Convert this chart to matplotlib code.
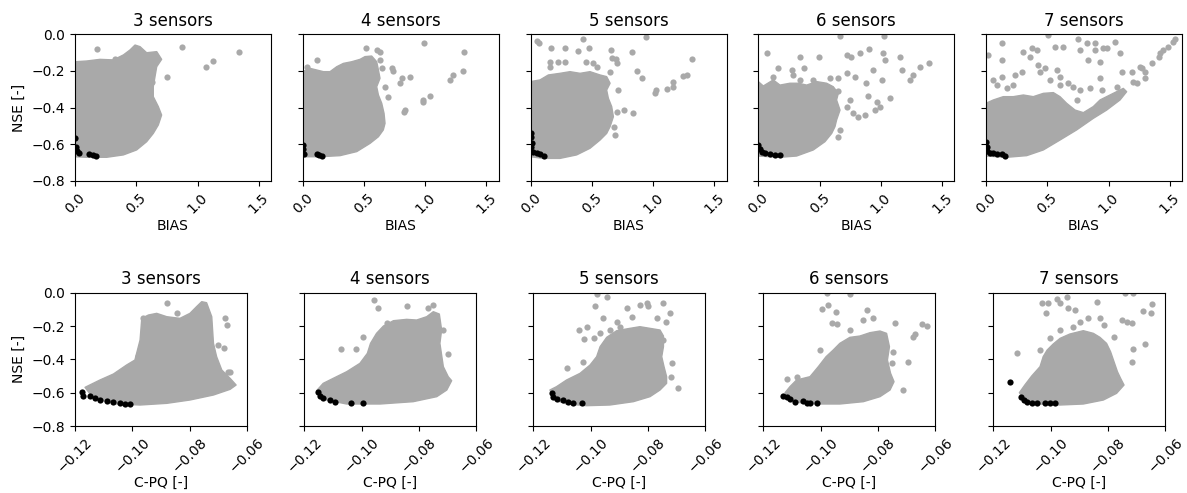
import matplotlib
matplotlib.use("Agg")
import matplotlib.pyplot as plt

# ---------------------------------------------------------------
# Sensor-count panels
# ---------------------------------------------------------------
sensor_counts = [3, 4, 5, 6, 7]

# ---- Row 1: BIAS vs NSE ----------------------------------------
# Outline of the dense solution cloud (BIAS, NSE)
bias_cloud_x = [
    [0, 0, 0.095, 0.204, 0.313, 0.395, 0.449, 0.490, 0.531, 0.585, 0.667, 0.707, 0.667, 0.653,
     0.639, 0.639, 0.680, 0.707, 0.680, 0.639, 0.585, 0.503, 0.395, 0.258, 0.095],
    [0, 0, 0.060, 0.169, 0.223, 0.278, 0.332, 0.400, 0.468, 0.509, 0.563, 0.604, 0.618, 0.631,
     0.604, 0.618, 0.645, 0.664, 0.672, 0.658, 0.618, 0.550, 0.441, 0.305, 0.141],
    [0, 0, 0.076, 0.144, 0.239, 0.321, 0.403, 0.484, 0.566, 0.620, 0.648, 0.620, 0.634, 0.661,
     0.675, 0.648, 0.620, 0.566, 0.484, 0.375, 0.239, 0.103],
    [0, 0, 0.041, 0.122, 0.177, 0.258, 0.327, 0.395, 0.476, 0.558, 0.612, 0.653, 0.639, 0.667,
     0.639, 0.626, 0.599, 0.544, 0.449, 0.313, 0.177],
    [0, 0, 0.060, 0.141, 0.223, 0.305, 0.386, 0.468, 0.550, 0.604, 0.658, 0.727, 0.795, 0.876,
     0.931, 0.985, 1.039, 1.121, 1.148, 1.094, 0.985, 0.876, 0.740, 0.604, 0.468, 0.332, 0.169],
]
bias_cloud_y = [
    [-0.668, -0.151, -0.147, -0.138, -0.141, -0.114, -0.087, -0.060, -0.069, -0.102, -0.096,
     -0.138, -0.178, -0.232, -0.287, -0.341, -0.395, -0.441, -0.495, -0.541, -0.586, -0.631,
     -0.658, -0.671, -0.671],
    [-0.668, -0.205, -0.187, -0.205, -0.205, -0.178, -0.160, -0.151, -0.138, -0.123, -0.120,
     -0.151, -0.196, -0.241, -0.287, -0.332, -0.377, -0.432, -0.486, -0.522, -0.559, -0.595,
     -0.640, -0.662, -0.668],
    [-0.668, -0.259, -0.250, -0.223, -0.214, -0.205, -0.214, -0.205, -0.223, -0.232, -0.268,
     -0.305, -0.350, -0.395, -0.450, -0.504, -0.541, -0.577, -0.622, -0.658, -0.677, -0.677],
    [-0.664, -0.259, -0.283, -0.250, -0.278, -0.268, -0.268, -0.278, -0.259, -0.268, -0.287,
     -0.323, -0.359, -0.414, -0.468, -0.504, -0.541, -0.586, -0.631, -0.664, -0.671],
    [-0.664, -0.377, -0.359, -0.341, -0.341, -0.332, -0.341, -0.323, -0.319, -0.341, -0.377,
     -0.414, -0.428, -0.395, -0.359, -0.341, -0.323, -0.296, -0.314, -0.359, -0.414, -0.459,
     -0.522, -0.577, -0.631, -0.662, -0.671],
]

# Scattered solutions outside the dense cloud
bias_out_x = [
    [0.177, 0.327, 0.748, 0.871, 1.067, 1.129, 1.341, 0.626],
    [0.114, 0.517, 0.604, 0.631, 0.631, 0.645, 0.726, 0.740, 0.672, 0.699, 0.808, 0.795, 0.876,
     0.835, 0.830, 0.990, 0.985, 0.985, 1.039, 1.203, 1.230, 1.312, 1.320, 0.033],
    [0.049, 0.071, 0.163, 0.280, 0.389, 0.430, 0.476, 0.158, 0.158, 0.226, 0.280, 0.452, 0.512,
     0.539, 0.653, 0.661, 0.697, 0.702, 0.830, 0.865, 0.912, 0.939, 0.716, 0.707, 0.762, 0.838,
     0.680, 0.688, 1.023, 1.018, 1.110, 1.159, 1.165, 1.246, 1.279, 1.320, 0.648],
    [0.073, 0.163, 0.122, 0.272, 0.286, 0.340, 0.373, 0.340, 0.449, 0.495, 0.585, 0.653, 0.653,
     0.667, 0.721, 0.754, 0.721, 0.789, 0.830, 0.906, 0.879, 0.898, 0.939, 0.952, 0.966, 1.007,
     0.993, 1.020, 1.026, 1.034, 1.075, 1.156, 1.175, 1.238, 1.265, 1.320, 1.396, 0.748, 0.775,
     0.816, 0.871, 0.667, 0.653, 0.721],
    [0.019, 0.128, 0.128, 0.060, 0.087, 0.128, 0.169, 0.223, 0.237, 0.291, 0.305, 0.359, 0.373,
     0.414, 0.427, 0.441, 0.482, 0.509, 0.522, 0.563, 0.577, 0.604, 0.604, 0.631, 0.672, 0.713,
     0.754, 0.767, 0.767, 0.822, 0.835, 0.849, 0.890, 0.890, 0.931, 0.931, 0.944, 0.958, 0.985,
     1.053, 1.067, 1.094, 1.107, 1.189, 1.203, 1.257, 1.271, 1.298, 1.352, 1.415, 1.420, 1.448,
     1.488, 1.529, 1.543, 1.298, 1.230, 0.740, 0.658, 0.604, 0.631, 0.577, 0.686],
]
bias_out_y = [
    [-0.082, -0.136, -0.232, -0.069, -0.178, -0.147, -0.096, -0.260],
    [-0.141, -0.078, -0.087, -0.096, -0.141, -0.187, -0.187, -0.200, -0.287, -0.341, -0.241,
     -0.265, -0.232, -0.414, -0.426, -0.051, -0.359, -0.368, -0.337, -0.250, -0.223, -0.200,
     -0.100, -0.178],
    [-0.036, -0.047, -0.074, -0.074, -0.091, -0.027, -0.074, -0.151, -0.178, -0.151, -0.154,
     -0.154, -0.160, -0.178, -0.087, -0.132, -0.138, -0.156, -0.096, -0.200, -0.241, -0.015,
     -0.305, -0.423, -0.414, -0.432, -0.504, -0.550, -0.305, -0.323, -0.301, -0.290, -0.259,
     -0.229, -0.223, -0.136, -0.205],
    [-0.102, -0.187, -0.236, -0.196, -0.223, -0.123, -0.183, -0.250, -0.250, -0.123, -0.241,
     -0.241, -0.308, -0.011, -0.114, -0.123, -0.210, -0.236, -0.105, -0.083, -0.265, -0.337,
     -0.196, -0.414, -0.368, -0.250, -0.395, -0.105, -0.011, -0.141, -0.350, -0.123, -0.196,
     -0.250, -0.223, -0.178, -0.156, -0.359, -0.432, -0.450, -0.441, -0.522, -0.559, -0.395],
    [-0.114, -0.051, -0.141, -0.250, -0.278, -0.236, -0.296, -0.278, -0.223, -0.205, -0.096,
     -0.123, -0.078, -0.087, -0.169, -0.205, -0.187, -0.005, -0.250, -0.069, -0.196, -0.232,
     -0.278, -0.069, -0.268, -0.290, -0.029, -0.087, -0.305, -0.051, -0.141, -0.296, -0.047,
     -0.087, -0.151, -0.241, -0.305, -0.078, -0.078, -0.042, -0.287, -0.105, -0.205, -0.205,
     -0.259, -0.178, -0.187, -0.205, -0.156, -0.127, -0.105, -0.087, -0.069, -0.042, -0.029,
     -0.241, -0.268, -0.359, -0.414, -0.468, -0.541, -0.559, -0.486],
]

# Pareto-optimal solutions (BIAS, NSE)
bias_pareto_x = [
    [0.0, 0.005, 0.014, 0.030, 0.117, 0.144, 0.171],
    [0.0, 0.005, 0.011, 0.114, 0.136, 0.155],
    [0.0, 0.0, 0.0, 0.008, 0.016, 0.049, 0.076, 0.112],
    [0.0, 0.014, 0.027, 0.054, 0.095, 0.136, 0.177],
    [0.0, 0.005, 0.011, 0.033, 0.060, 0.087, 0.128, 0.155],
]
bias_pareto_y = [
    [-0.568, -0.613, -0.635, -0.649, -0.653, -0.657, -0.664],
    [-0.604, -0.628, -0.653, -0.653, -0.659, -0.662],
    [-0.537, -0.562, -0.613, -0.595, -0.640, -0.649, -0.653, -0.664],
    [-0.604, -0.628, -0.640, -0.649, -0.655, -0.659, -0.660],
    [-0.590, -0.613, -0.635, -0.646, -0.649, -0.653, -0.653, -0.664],
]

# ---- Row 2: C-PQ vs NSE ----------------------------------------
cpq_cloud_x = [
    [-0.1165, -0.1113, -0.1066, -0.1020, -0.0991, -0.0973, -0.0967, -0.0944, -0.0915, -0.0880,
     -0.0834, -0.0799, -0.0776, -0.0758, -0.0741, -0.0723, -0.0717, -0.0706, -0.0688, -0.0659,
     -0.0638, -0.0659, -0.0717, -0.0799, -0.0880, -0.0973, -0.1055, -0.1136],
    [-0.1157, -0.1134, -0.1099, -0.1052, -0.1006, -0.0980, -0.0969, -0.0948, -0.0924, -0.0889,
     -0.0843, -0.0808, -0.0773, -0.0750, -0.0729, -0.0721, -0.0727, -0.0715, -0.0698, -0.0686,
     -0.0703, -0.0738, -0.0820, -0.0936, -0.1052, -0.1122],
    [-0.1142, -0.1119, -0.1084, -0.1037, -0.1002, -0.0979, -0.0967, -0.0944, -0.0909, -0.0863,
     -0.0828, -0.0793, -0.0758, -0.0746, -0.0746, -0.0752, -0.0744, -0.0735, -0.0735, -0.0758,
     -0.0793, -0.0851, -0.0933, -0.1014, -0.1084, -0.1124],
    [-0.1124, -0.1107, -0.1084, -0.1037, -0.1008, -0.0981, -0.0956, -0.0933, -0.0898, -0.0863,
     -0.0828, -0.0793, -0.0770, -0.0760, -0.0767, -0.0756, -0.0744, -0.0758, -0.0793, -0.0851,
     -0.0933, -0.1014, -0.1072, -0.1113],
    [-0.1109, -0.1090, -0.1066, -0.1037, -0.1026, -0.1012, -0.0991, -0.0967, -0.0933, -0.0886,
     -0.0851, -0.0828, -0.0805, -0.0791, -0.0779, -0.0767, -0.0756, -0.0744, -0.0770, -0.0816,
     -0.0886, -0.0967, -0.1037, -0.1084],
]
cpq_cloud_y = [
    [-0.568, -0.524, -0.488, -0.434, -0.404, -0.284, -0.154, -0.134, -0.124, -0.144, -0.154,
     -0.124, -0.084, -0.054, -0.060, -0.144, -0.304, -0.384, -0.464, -0.514, -0.554, -0.580,
     -0.614, -0.644, -0.664, -0.674, -0.668, -0.634],
    [-0.588, -0.544, -0.514, -0.474, -0.424, -0.364, -0.304, -0.244, -0.200, -0.168, -0.160,
     -0.164, -0.144, -0.114, -0.128, -0.224, -0.304, -0.444, -0.504, -0.528, -0.584, -0.624,
     -0.654, -0.668, -0.668, -0.644],
    [-0.584, -0.564, -0.524, -0.484, -0.434, -0.384, -0.324, -0.268, -0.228, -0.214, -0.204,
     -0.214, -0.224, -0.260, -0.324, -0.384, -0.444, -0.504, -0.544, -0.584, -0.624, -0.654,
     -0.674, -0.678, -0.668, -0.644],
    [-0.600, -0.564, -0.524, -0.504, -0.444, -0.384, -0.344, -0.304, -0.268, -0.260, -0.240,
     -0.230, -0.244, -0.324, -0.404, -0.484, -0.534, -0.584, -0.624, -0.654, -0.668, -0.668,
     -0.660, -0.634],
    [-0.600, -0.554, -0.500, -0.444, -0.384, -0.344, -0.308, -0.274, -0.248, -0.228, -0.244,
     -0.268, -0.304, -0.354, -0.414, -0.474, -0.514, -0.554, -0.604, -0.644, -0.668, -0.674,
     -0.668, -0.654],
]

cpq_out_x = [
    [-0.0880, -0.0962, -0.0845, -0.0979, -0.0677, -0.0671, -0.0680, -0.0700, -0.0665, -0.0659],
    [-0.0956, -0.0942, -0.0843, -0.0767, -0.0750, -0.0913, -0.1073, -0.1020, -0.0994, -0.0698,
     -0.0717, -0.0738, -0.0732],
    [-0.0977, -0.0944, -0.0985, -0.0956, -0.0909, -0.0898, -0.0874, -0.0857, -0.0828, -0.0805,
     -0.0799, -0.0770, -0.0746, -0.0723, -0.0738, -0.1041, -0.1014, -0.1023, -0.0988, -0.0967,
     -0.0933, -0.1084, -0.1026, -0.0746, -0.0715, -0.0721, -0.0694],
    [-0.0977, -0.0898, -0.0973, -0.0996, -0.0946, -0.0839, -0.0819, -0.0851, -0.0962, -0.0942,
     -0.0898, -0.0741, -0.0648, -0.0628, -0.0671, -0.0679, -0.0694, -0.0712, -0.1119, -0.1081,
     -0.1002, -0.0746, -0.0752],
    [-0.1031, -0.1008, -0.1016, -0.0979, -0.0967, -0.0944, -0.0938, -0.0915, -0.0898, -0.0869,
     -0.0839, -0.0828, -0.0814, -0.0779, -0.0741, -0.0712, -0.0752, -0.0735, -0.0717, -0.0714,
     -0.0717, -0.0677, -0.0651, -0.0648, -0.0671, -0.1116, -0.1037, -0.1002, -0.0967, -0.0921],
]
cpq_out_y = [
    [-0.060, -0.154, -0.120, -0.380, -0.150, -0.194, -0.334, -0.314, -0.474, -0.474],
    [-0.044, -0.094, -0.080, -0.094, -0.074, -0.180, -0.340, -0.340, -0.264, -0.370, -0.224,
     -0.264, -0.394],
    [-0.010, -0.024, -0.080, -0.154, -0.174, -0.208, -0.094, -0.144, -0.074, -0.064, -0.080,
     -0.154, -0.064, -0.124, -0.174, -0.224, -0.204, -0.280, -0.274, -0.244, -0.224, -0.454,
     -0.414, -0.284, -0.424, -0.508, -0.574],
    [-0.004, -0.008, -0.074, -0.100, -0.114, -0.104, -0.154, -0.164, -0.180, -0.188, -0.224,
     -0.180, -0.188, -0.200, -0.248, -0.264, -0.414, -0.584, -0.520, -0.504, -0.344, -0.354,
     -0.424],
    [-0.060, -0.064, -0.124, -0.040, -0.064, -0.024, -0.094, -0.104, -0.174, -0.154, -0.054,
     -0.154, -0.194, -0.268, -0.004, -0.004, -0.164, -0.174, -0.184, -0.340, -0.414, -0.108,
     -0.124, -0.068, -0.308, -0.360, -0.344, -0.274, -0.224, -0.208],
]

cpq_pareto_x = [
    [-0.1177, -0.1171, -0.1148, -0.1130, -0.1113, -0.1090, -0.1066, -0.1043, -0.1026, -0.1008],
    [-0.1151, -0.1145, -0.1134, -0.1110, -0.1093, -0.1038, -0.0996],
    [-0.1136, -0.1130, -0.1116, -0.1095, -0.1078, -0.1063, -0.1031],
    [-0.1130, -0.1119, -0.1107, -0.1090, -0.1060, -0.1049, -0.1037, -0.1014],
    [-0.1142, -0.1105, -0.1093, -0.1084, -0.1066, -0.1049, -0.1020, -0.1002, -0.0985],
]
cpq_pareto_y = [
    [-0.594, -0.620, -0.618, -0.632, -0.642, -0.650, -0.656, -0.662, -0.666, -0.668],
    [-0.594, -0.620, -0.630, -0.644, -0.654, -0.660, -0.660],
    [-0.604, -0.624, -0.636, -0.644, -0.654, -0.660, -0.664],
    [-0.618, -0.628, -0.640, -0.654, -0.650, -0.660, -0.664, -0.664],
    [-0.534, -0.628, -0.644, -0.654, -0.660, -0.660, -0.660, -0.664, -0.664],
]

nse_ticks = [-0.8, -0.6, -0.4, -0.2, 0.0]
bias_ticks = [0.0, 0.5, 1.0, 1.5]
cpq_ticks = [-0.12, -0.10, -0.08, -0.06]

GRAY = "#a9a9a9"
DOT = 20

W, H = 1187, 493
fig = plt.figure(figsize=(W / 100, H / 100), dpi=100)

row1_left = [75, 302.7, 530.7, 758.3, 986]
row2_left = [75, 304.3, 533.3, 763.3, 993.3]


def add_panel(left_px, top_px, width_px, height_px):
    return fig.add_axes([left_px / W, 1 - (top_px + height_px) / H, width_px / W, height_px / H])


def draw(ax, cx, cy, ox, oy, px, py):
    ax.fill(cx, cy, facecolor=GRAY, edgecolor=GRAY, lw=1.0, joinstyle="round", zorder=1)
    ax.scatter(ox, oy, s=DOT, color=GRAY, linewidths=0, zorder=2)
    ax.scatter(px, py, s=DOT, color="black", linewidths=0, zorder=3)


for i, n in enumerate(sensor_counts):
    # BIAS row
    ax = add_panel(row1_left[i], 34, 196, 147)
    draw(ax, bias_cloud_x[i], bias_cloud_y[i], bias_out_x[i], bias_out_y[i],
         bias_pareto_x[i], bias_pareto_y[i])
    ax.set_xlim(0, 1.6)
    ax.set_ylim(-0.8, 0)
    ax.set_xticks(bias_ticks)
    ax.set_yticks(nse_ticks)
    ax.set_title(f"{n} sensors", fontsize=12)
    ax.set_xlabel("BIAS", labelpad=2)
    plt.setp(ax.get_xticklabels(), rotation=45)
    if i == 0:
        ax.set_ylabel("NSE [-]")
    else:
        ax.set_yticklabels([])

    # C-PQ row
    ax = add_panel(row2_left[i], 292.7, 172, 133.3)
    draw(ax, cpq_cloud_x[i], cpq_cloud_y[i], cpq_out_x[i], cpq_out_y[i],
         cpq_pareto_x[i], cpq_pareto_y[i])
    ax.set_xlim(-0.12, -0.06)
    ax.set_ylim(-0.8, 0)
    ax.set_xticks(cpq_ticks)
    ax.set_yticks(nse_ticks)
    ax.set_title(f"{n} sensors", fontsize=12)
    ax.set_xlabel("C-PQ [-]", labelpad=0)
    plt.setp(ax.get_xticklabels(), rotation=45)
    if i == 0:
        ax.set_ylabel("NSE [-]")
    else:
        ax.set_yticklabels([])

fig.savefig("out.png", dpi=100)
